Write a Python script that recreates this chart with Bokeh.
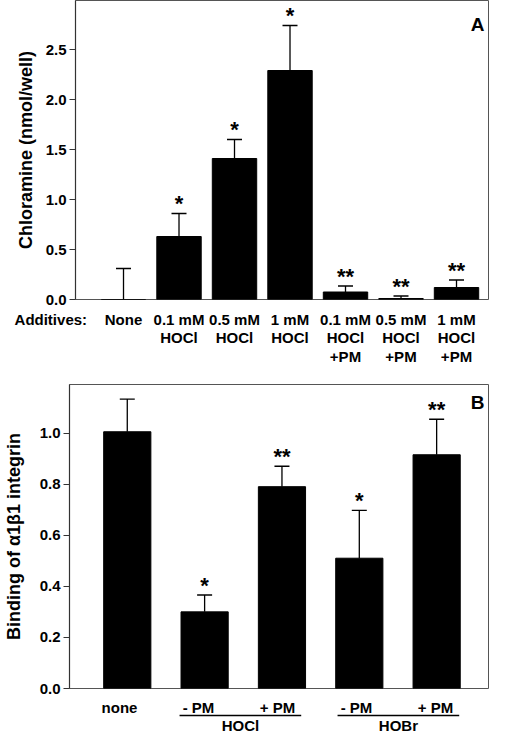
from bokeh.plotting import figure
from bokeh.models import (ColumnDataSource, FixedTicker, Whisker, TeeHead, Label,
                          Range1d, NumeralTickFormatter)
from bokeh.embed import file_html
from bokeh.resources import INLINE
from bokeh.core.properties import value

FONT = "Liberation Sans"

# ---------------- Panel A data ----------------
a_labels = ["None", "0.1 mM\nHOCl", "0.5 mM\nHOCl", "1 mM\nHOCl",
            "0.1 mM\nHOCl\n+PM", "0.5 mM\nHOCl\n+PM", "1 mM\nHOCl\n+PM"]
a_values = [0.0, 0.63, 1.41, 2.29, 0.075, 0.01, 0.12]
a_errors = [0.31, 0.23, 0.19, 0.45, 0.06, 0.025, 0.075]
a_marks = ["", "*", "*", "*", "**", "**", "**"]
a_yticks = [0.0, 0.5, 1.0, 1.5, 2.0, 2.5]
a_prefix = "Additives:"
a_title = "Chloramine (nmol/well)"
a_panel = "A"

# ---------------- Panel B data ----------------
b_labels = ["none", "- PM", "+ PM", "- PM", "+ PM"]
b_values = [1.005, 0.30, 0.79, 0.51, 0.915]
b_errors = [0.128, 0.066, 0.08, 0.187, 0.139]
b_marks = ["", "*", "**", "*", "**"]
b_groups = ["HOCl", "HOBr"]
b_group_members = [[2, 3], [4, 5]]
b_yticks = [0.0, 0.2, 0.4, 0.6, 0.8, 1.0]
b_title = "Binding of \u03b11\u03b21 integrin"
b_panel = "B"

W = 489
PAD = 8
OUTLINE = "#555555"
AXIS = "#333333"


def style(p, yticks, standoff):
    p.xgrid.visible = False
    p.ygrid.visible = False
    p.outline_line_color = OUTLINE
    p.outline_line_width = 1
    ax = p.yaxis[0]
    ax.axis_line_color = AXIS
    ax.axis_line_width = 1.2
    ax.major_label_text_font = FONT
    ax.major_label_text_font_style = "bold"
    ax.major_label_text_font_size = "15px"
    ax.major_label_text_color = "black"
    ax.minor_tick_line_color = None
    ax.axis_label_text_font = FONT
    ax.axis_label_text_font_style = "bold"
    ax.axis_label_text_font_size = "18px"
    ax.axis_label_text_color = "black"
    ax.ticker = FixedTicker(ticks=yticks)
    ax.formatter = NumeralTickFormatter(format="0.0")
    ax.major_tick_out = 6
    ax.major_tick_in = 0
    ax.major_tick_line_color = AXIS
    ax.major_label_standoff = 3
    ax.axis_label_standoff = standoff


def bars(p, values, errors, marks, width):
    x = list(range(1, len(values) + 1))
    tops = [v + e for v, e in zip(values, errors)]
    src = ColumnDataSource(dict(x=x, v=values, e=tops, m=marks))
    p.vbar(x="x", top="v", bottom=0, width=width, source=src,
           fill_color="black", line_color="black", line_width=1)
    p.add_layout(Whisker(base="x", lower="v", upper="e", source=src,
                         line_color="black", line_width=1.3, lower_head=None,
                         upper_head=TeeHead(size=15, line_color="black", line_width=1.3)))
    p.text(x="x", y="e", text="m", source=src, text_font=value(FONT),
           text_font_style="bold", text_font_size="22px", text_align="center",
           text_baseline="alphabetic", text_color="black", y_offset=-10)
    return x


def strip(height, x0, x1):
    s = figure(width=W, height=height, title=None, x_range=Range1d(x0, x1),
               y_range=Range1d(-height - PAD, -PAD), output_backend="svg",
               toolbar_location=None, x_axis_location=None, y_axis_location=None,
               min_border_left=0, min_border_right=0, min_border_top=0,
               min_border_bottom=0)
    s.xgrid.visible = False
    s.ygrid.visible = False
    s.outline_line_color = None
    return s


def labels(s, xs, texts, top):
    s.text(x=xs, y=[top] * len(xs), text=texts, text_font=value(FONT),
           text_font_style="bold", text_font_size="15px", text_align="center",
           text_baseline="top", text_line_height=1.1, text_color="black")


# ---------------- Figure A ----------------
A_LEFT, A_PPU, A_X0 = 75, 55.5, 0.135
A_FRAME_H, A_YMAX = 299, 2.99
a_x1 = A_X0 + (W - A_LEFT) / A_PPU
pa = figure(width=W, height=A_FRAME_H + PAD, title=None, x_range=Range1d(A_X0, a_x1),
            y_range=Range1d(0, A_YMAX), output_backend="svg", toolbar_location=None,
            x_axis_location=None,
            min_border_left=A_LEFT, min_border_right=0, min_border_top=0,
            min_border_bottom=PAD)
style(pa, a_yticks, 7)
xa = bars(pa, a_values, a_errors, a_marks, 0.8)
pa.yaxis.axis_label = a_title
pa.add_layout(Label(x=7.38, y=2.75, text=a_panel, text_font=FONT,
                    text_font_style="bold", text_font_size="19px",
                    text_align="center", text_baseline="middle", text_color="black"))

sa = strip(73 - PAD, A_X0 - A_LEFT / A_PPU, a_x1)
labels(sa, xa, a_labels, -11)
labels(sa, [-0.31], [a_prefix], -11)

# ---------------- Figure B ----------------
B_LEFT, B_PPU, B_X0 = 60, 79.0, 0.253
B_TOP, B_FRAME_H, B_YMAX = 12, 304, 1.19
b_x1 = B_X0 + (W - B_LEFT) / B_PPU
pb = figure(width=W, height=B_TOP + B_FRAME_H + PAD, title=None,
            x_range=Range1d(B_X0, b_x1),
            y_range=Range1d(0, B_YMAX), output_backend="svg", toolbar_location=None,
            x_axis_location=None,
            min_border_left=B_LEFT, min_border_right=0, min_border_top=B_TOP,
            min_border_bottom=PAD)
style(pb, b_yticks, 13)
xb = bars(pb, b_values, b_errors, b_marks, 0.61)
pb.yaxis.axis_label = b_title
b_ppu_y = B_FRAME_H / B_YMAX
pb.add_layout(Label(x=5.53, y=B_YMAX - 18 / b_ppu_y, text=b_panel, text_font=FONT,
                    text_font_style="bold", text_font_size="19px",
                    text_align="center", text_baseline="middle", text_color="black"))

sb = strip(46 - PAD, B_X0 - B_LEFT / B_PPU, b_x1)
labels(sb, xb, b_labels, -10)
gx0 = [m[0] - 0.24 for m in b_group_members]
gx1 = [m[-1] + 0.30 for m in b_group_members]
sb.segment(x0=gx0, x1=gx1, y0=[-27] * len(gx0), y1=[-27] * len(gx0),
           line_color="black", line_width=1.3)
labels(sb, [(a + b) / 2 for a, b in zip(gx0, gx1)], b_groups, -28.5)

open("out.html", "w").write(file_html([pa, sa, pb, sb], INLINE))
